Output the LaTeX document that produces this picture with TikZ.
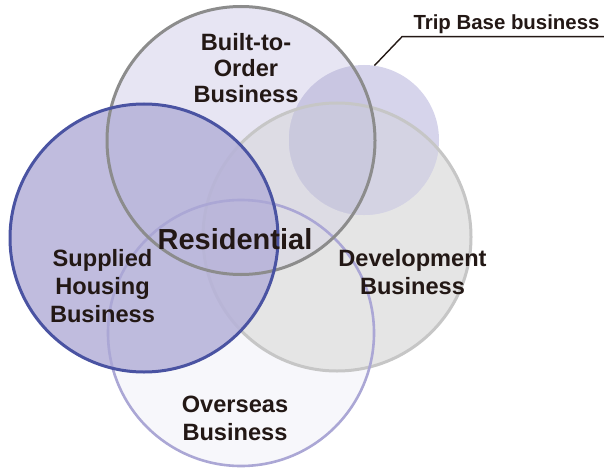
\documentclass[tikz,border=0pt]{standalone}
\usepackage{fontspec}
\setmainfont{Liberation Sans}
\definecolor{ink}{HTML}{231815}
\definecolor{ovfill}{HTML}{F7F7FB}
\definecolor{btofill}{HTML}{E7E5F3}
\definecolor{devfill}{HTML}{E5E5E5}
\definecolor{btodevfill}{HTML}{DDDCE4}
\definecolor{tripfill}{HTML}{D6D4EB}
\definecolor{tripbtofill}{HTML}{C9C6E2}
\definecolor{tripdevfill}{HTML}{D4D3E3}
\definecolor{tripalldfill}{HTML}{CAC9DD}
\definecolor{supfill}{HTML}{B7B3D9}
\definecolor{ovline}{HTML}{ABA7D5}
\definecolor{devline}{HTML}{C6C6C6}
\definecolor{btoline}{HTML}{8C8C8C}
\definecolor{supline}{HTML}{4A53A2}
\begin{document}
\begin{tikzpicture}[x=1pt,y=-1pt,
  biglabel/.style={inner sep=0pt, anchor=base, text=ink,
    font=\fontsize{23.6}{28}\selectfont\bfseries},
  ring/.style={line width=3pt},
  leader/.style={draw=ink, line width=1.4pt},
]
\useasboundingbox (0,0) rectangle (604,468);

% circle centres
\coordinate (cB) at (241,140.5);  % built-to-order
\coordinate (cS) at (144,238);    % supplied housing
\coordinate (cD) at (337,237);    % development
\coordinate (cO) at (241,333);    % overseas
\node[circle, minimum size=150pt, inner sep=0pt] (trip) at (364,140) {};
\coordinate (elbow) at (402,36.7);
\coordinate (lineend) at (604,36.7);

% fills, back to front
\fill[ovfill] (cO) circle[radius=133pt];
\fill[btofill] (cB) circle[radius=134pt];
\fill[devfill] (cD) circle[radius=134pt];
\begin{scope}
  \clip (cB) circle[radius=134pt];
  \fill[btodevfill] (cD) circle[radius=134pt];
\end{scope}
\fill[tripfill] (trip.center) circle[radius=75pt];
\begin{scope}
  \clip (cB) circle[radius=134pt];
  \fill[tripbtofill] (trip.center) circle[radius=75pt];
\end{scope}
\begin{scope}
  \clip (cD) circle[radius=134pt];
  \fill[tripdevfill] (trip.center) circle[radius=75pt];
  \clip (cB) circle[radius=134pt];
  \fill[tripalldfill] (trip.center) circle[radius=75pt];
\end{scope}

% development outline sits under the supplied-housing disc
\draw[ring, devline] (cD) circle[radius=134pt];
\fill[supfill, fill opacity=0.88] (cS) circle[radius=134pt];

% remaining outlines
\draw[ring, ovline, line width=2.6pt] (cO) circle[radius=133pt];
\draw[ring, btoline] (cB) circle[radius=134pt];
\draw[ring, supline] (cS) circle[radius=134pt];

% leader to the trip base label
\draw[leader] (trip.82) -- (elbow) -- (lineend);

% labels
\node[biglabel] (lbto) at (246,50.7)
  {\fontsize{23.6}{26}\selectfont\begin{tabular}[t]{@{}c@{}}Built-to-\\Order\\Business\end{tabular}};
\node[biglabel] (lsup) at (102.5,266.7)
  {\begin{tabular}[t]{@{}c@{}}Supplied\\Housing\\Business\end{tabular}};
\node[biglabel] (ldev) at (412.5,266.7)
  {\begin{tabular}[t]{@{}c@{}}Development\\Business\end{tabular}};
\node[biglabel] (lov) at (235,412)
  {\begin{tabular}[t]{@{}c@{}}Overseas\\Business\end{tabular}};
\node[biglabel, font=\fontsize{29}{34}\selectfont\bfseries] (lres) at (235,249) {Residential};
\node[biglabel, font=\fontsize{20.4}{24}\selectfont\bfseries] (ltrip) at (506.5,30) {Trip Base business};
\end{tikzpicture}
\end{document}
